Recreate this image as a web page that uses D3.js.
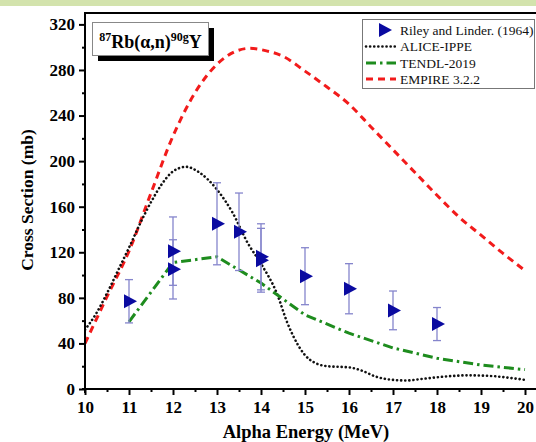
<!DOCTYPE html>
<html>
<head>
<meta charset="utf-8">
<script src="https://cdn.jsdelivr.net/npm/d3@7"></script>
<style>
  html, body { margin: 0; padding: 0; background: #fff; }
  svg text { font-family: "Liberation Serif", "Times New Roman", Times, serif; }
</style>
</head>
<body>
<svg id="chart" width="536" height="442"></svg>
<script>
// Experimental data: Riley and Linder (1964)
const expEnergy = [11, 12, 12, 13, 13.5, 14, 14, 15, 16, 17, 18];
const expXS     = [77, 121, 105, 145, 138, 116, 113, 99, 88, 69, 57];
const expErr    = [19, 30, 26, 36, 34, 29, 28, 25, 22, 17, 14.5];

// ALICE-IPPE calculation
const aliceEnergy = [10, 10.25, 10.5, 10.75, 11, 11.25, 11.5, 11.75, 12, 12.3, 12.6, 13, 13.35, 13.7, 14, 14.36, 14.6, 14.85, 15.1, 15.5, 16, 16.3, 16.6, 17, 17.3, 17.7, 18.2, 18.7, 19.2, 19.6, 20];
const aliceXS     = [52, 66, 84, 104, 124, 145, 164, 180, 191, 195, 190, 175, 155, 128, 110, 84, 58, 38, 26, 20, 19, 16, 11, 8, 7.5, 9, 11, 12, 11.5, 10, 8];

// TENDL-2019 evaluation
const tendlEnergy = [11, 12, 13, 14, 15, 16, 17, 18, 19, 20];
const tendlXS     = [59, 111, 116, 93, 65, 49, 36, 27, 21, 17];

// EMPIRE 3.2.2 calculation
const empireEnergy = [10, 10.5, 11, 11.5, 12, 12.5, 13, 13.4, 13.75, 14.1, 14.5, 15, 15.5, 16, 16.5, 17, 17.5, 18, 18.5, 19, 19.5, 20];
const empireXS     = [40, 81, 121, 172, 222, 260, 285, 296, 299, 297, 292, 279, 265, 250, 230, 210, 190, 170, 151, 135, 119, 104];

const xTicks = [10, 11, 12, 13, 14, 15, 16, 17, 18, 19, 20];
const yTicks = [0, 40, 80, 120, 160, 200, 240, 280, 320];

const legendLabels = ["Riley and Linder. (1964)", "ALICE-IPPE", "TENDL-2019", "EMPIRE 3.2.2"];

const SERIF = "'Liberation Serif', 'Times New Roman', Times, serif";
const svg = d3.select("#chart");
const W = 536, H = 442;
const plot = { left: 85, right: 540, top: 13, bottom: 389 };

const x = d3.scaleLinear().domain([10, 20]).range([85, 525]);
const y = d3.scaleLinear().domain([0, 330]).range([plot.bottom, plot.top]);

// pale green strip along the top edge
svg.append("rect").attr("x", 0).attr("y", 0).attr("width", W).attr("height", 6).attr("fill", "#d3e3ad");

// clip for curves
svg.append("clipPath").attr("id", "clip").append("rect")
  .attr("x", plot.left).attr("y", plot.top).attr("width", plot.right - plot.left).attr("height", plot.bottom - plot.top);

const g = svg.append("g").attr("clip-path", "url(#clip)");

const line = (curve) => d3.line().x(d => x(d[0])).y(d => y(d[1])).curve(curve);

// EMPIRE 3.2.2
g.append("path")
  .datum(d3.zip(empireEnergy, empireXS))
  .attr("d", line(d3.curveMonotoneX))
  .attr("fill", "none").attr("stroke", "#f21b1b").attr("stroke-width", 3)
  .attr("stroke-dasharray", "7,5");

// ALICE-IPPE
g.append("path")
  .datum(d3.zip(aliceEnergy, aliceXS))
  .attr("d", line(d3.curveMonotoneX))
  .attr("fill", "none").attr("stroke", "#111").attr("stroke-width", 2.6)
  .attr("stroke-linecap", "round")
  .attr("stroke-dasharray", "0.1,4");

// TENDL-2019
g.append("path")
  .datum(d3.zip(tendlEnergy, tendlXS))
  .attr("d", line(d3.curveLinear))
  .attr("fill", "none").attr("stroke", "#1e8c1e").attr("stroke-width", 3)
  .attr("stroke-dasharray", "10,4,2.5,4");

// experimental points with error bars
const pts = expEnergy.map((e, i) => ({ e, v: expXS[i], err: expErr[i] }));
const eb = svg.append("g").attr("stroke", "#8585cc").attr("stroke-width", 1.3);
pts.forEach(p => {
  const cx = x(p.e);
  eb.append("line").attr("x1", cx).attr("x2", cx).attr("y1", y(p.v + p.err)).attr("y2", y(p.v - p.err));
  eb.append("line").attr("x1", cx - 4).attr("x2", cx + 4).attr("y1", y(p.v + p.err)).attr("y2", y(p.v + p.err));
  eb.append("line").attr("x1", cx - 4).attr("x2", cx + 4).attr("y1", y(p.v - p.err)).attr("y2", y(p.v - p.err));
});
const tri = "M-5,-7L8,0L-5,7Z";
svg.append("g").selectAll("path").data(pts).join("path")
  .attr("d", tri)
  .attr("transform", d => `translate(${x(d.e)},${y(d.v)})`)
  .attr("fill", "#0a0aa0");

// frame
svg.append("line").attr("x1", plot.left).attr("x2", plot.right).attr("y1", plot.top).attr("y2", plot.top)
  .attr("stroke", "#000").attr("stroke-width", 2);

// axes
const xAxis = svg.append("g").attr("transform", `translate(0,${plot.bottom})`)
  .call(d3.axisBottom(x).tickValues(xTicks).tickFormat(d3.format("d")).tickSize(6).tickPadding(6));
const xMinor = svg.append("g").attr("transform", `translate(0,${plot.bottom})`)
  .call(d3.axisBottom(x).tickValues(d3.range(10.5, 20, 1)).tickSize(3).tickFormat(""));
const yAxis = svg.append("g").attr("transform", `translate(${plot.left},0)`)
  .call(d3.axisLeft(y).tickValues(yTicks).tickFormat(d3.format("d")).tickSize(6).tickPadding(4));
const yMinor = svg.append("g").attr("transform", `translate(${plot.left},0)`)
  .call(d3.axisLeft(y).tickValues(d3.range(20, 330, 40)).tickSize(3).tickFormat(""));

[xAxis, xMinor, yAxis, yMinor].forEach(a => {
  a.attr("font-family", SERIF);
  a.select(".domain").remove();
  a.selectAll(".tick line").attr("stroke", "#000").attr("stroke-width", 2);
  a.selectAll("text").attr("fill", "#000").attr("font-size", 17).attr("font-weight", "bold")
    .style("font-family", SERIF);
});
svg.append("line").attr("x1", plot.left - 3).attr("x2", plot.right).attr("y1", plot.bottom).attr("y2", plot.bottom)
  .attr("stroke", "#000").attr("stroke-width", 2);
svg.append("line").attr("x1", plot.left).attr("x2", plot.left).attr("y1", plot.top - 1).attr("y2", plot.bottom + 4)
  .attr("stroke", "#000").attr("stroke-width", 2);

// axis titles
svg.append("text").attr("x", 306).attr("y", 438).attr("text-anchor", "middle")
  .style("font-family", SERIF)
  .attr("font-size", 18.5).attr("font-weight", "bold").text("Alpha Energy (MeV)");
svg.append("text").attr("transform", "translate(33,200) rotate(-90)").attr("text-anchor", "middle")
  .style("font-family", SERIF)
  .attr("font-size", 17.5).attr("font-weight", "bold").text("Cross Section (mb)");

// reaction label with drop shadow
svg.append("rect").attr("x", 98).attr("y", 28).attr("width", 116).attr("height", 33).attr("fill", "#000");
svg.append("rect").attr("x", 92.5).attr("y", 22.5).attr("width", 116).attr("height", 33)
  .attr("fill", "#fff").attr("stroke", "#888").attr("stroke-width", 1);
const lbl = svg.append("text").attr("x", 150.5).attr("y", 48).attr("text-anchor", "middle")
  .style("font-family", SERIF)
  .attr("font-size", 18).attr("font-weight", "bold");
lbl.append("tspan").attr("font-size", 12).attr("dy", -7).text("87");
lbl.append("tspan").attr("dy", 7).text("Rb(α,n)");
lbl.append("tspan").attr("font-size", 12).attr("dy", -7).text("90g");
lbl.append("tspan").attr("dy", 7).text("Y");

// legend
const lg = svg.append("g");
lg.append("rect").attr("x", 362.5).attr("y", 19.5).attr("width", 172).attr("height", 69)
  .attr("fill", "#fff").attr("stroke", "#777").attr("stroke-width", 1);
const rows = [30, 46.5, 63, 79];
lg.append("path").attr("d", tri).attr("transform", `translate(384,${rows[0]})`).attr("fill", "#0a0aa0");
lg.append("line").attr("x1", 366).attr("x2", 396).attr("y1", rows[1]).attr("y2", rows[1])
  .attr("stroke", "#111").attr("stroke-width", 2.6).attr("stroke-linecap", "round").attr("stroke-dasharray", "0.1,4");
lg.append("line").attr("x1", 366).attr("x2", 396).attr("y1", rows[2]).attr("y2", rows[2])
  .attr("stroke", "#1e8c1e").attr("stroke-width", 3).attr("stroke-dasharray", "10,4,2.5,4");
lg.append("line").attr("x1", 366).attr("x2", 396).attr("y1", rows[3]).attr("y2", rows[3])
  .attr("stroke", "#f21b1b").attr("stroke-width", 3).attr("stroke-dasharray", "7,5");
lg.selectAll("text.lt").data(legendLabels).join("text").attr("class", "lt")
  .style("font-family", SERIF)
  .attr("x", 400).attr("y", (d, i) => rows[i] + 4.5)
  .attr("font-size", 13.5).attr("fill", "#111").text(d => d);
</script>
</body>
</html>
